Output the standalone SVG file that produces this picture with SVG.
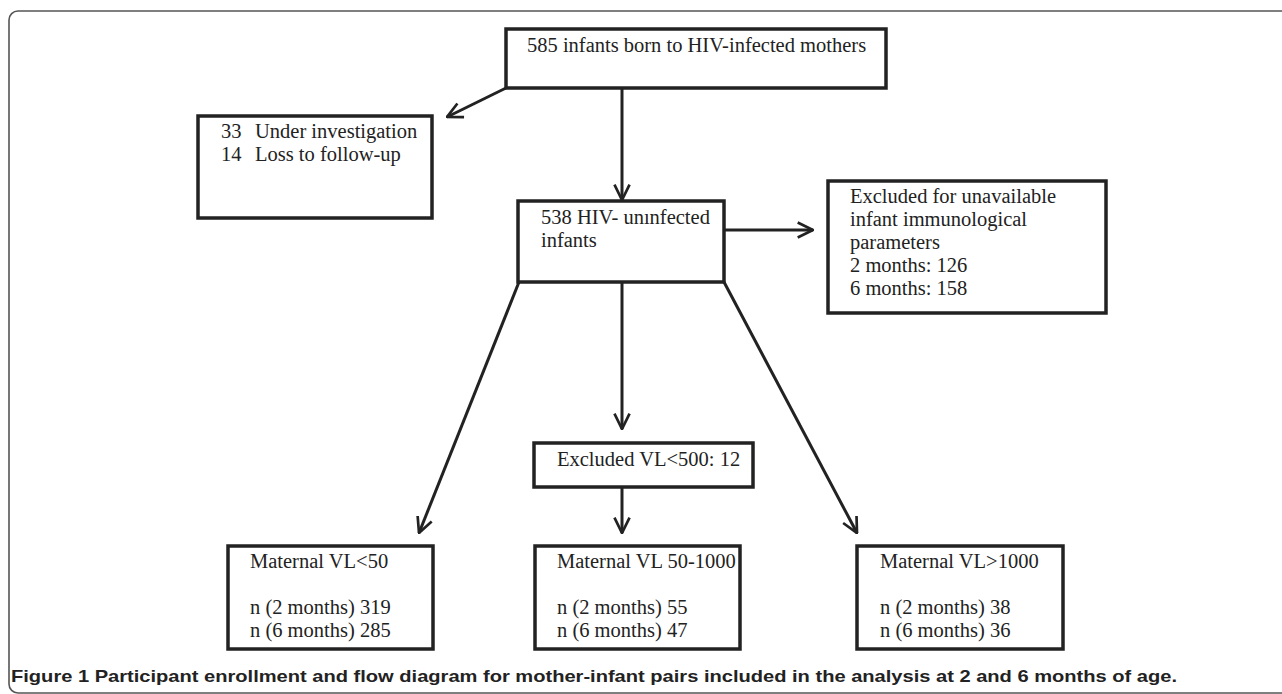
<svg xmlns="http://www.w3.org/2000/svg" width="1282" height="694" viewBox="0 0 1282 694">
<defs>
<style>
.box{fill:#fff;stroke:#222;stroke-width:3.5}
.t{font-family:"Liberation Serif","Times New Roman",serif;font-size:20.5px;fill:#222}
.con{stroke:#222;stroke-width:3;fill:none;marker-end:url(#arr)}
.cap{font-family:"Liberation Sans",Arial,sans-serif;font-size:17px;font-weight:bold;fill:#222}
</style>
<marker id="arr" viewBox="0 0 10 10" refX="9.5" refY="5" markerWidth="6" markerHeight="6" orient="auto" markerUnits="strokeWidth">
<path d="M1,0.8 L9.5,5 L1,9.2" fill="none" stroke="#222" stroke-width="1.5"/>
</marker>
</defs>
<rect x="9" y="11" width="1290" height="682" rx="9" fill="#fff" stroke="#555" stroke-width="1.6"/>
<g id="connectors">
<line class="con" x1="506" y1="88" x2="447" y2="117"/>
<line class="con" x1="622" y1="88" x2="622" y2="200"/>
<line class="con" x1="724" y1="230" x2="813" y2="230"/>
<line class="con" x1="519" y1="282" x2="419" y2="533"/>
<line class="con" x1="622" y1="282" x2="622" y2="429"/>
<line class="con" x1="724" y1="282" x2="857" y2="533"/>
<line class="con" x1="622" y1="487" x2="622" y2="533"/>
</g>
<g id="n-top">
<rect class="box" x="506" y="29" width="380" height="59"/>
<text class="t" x="527" y="52">585 infants born to HIV-infected mothers</text>
</g>
<g id="n-lost">
<rect class="box" x="198" y="116" width="234" height="102"/>
<text class="t" x="221" y="138">33</text>
<text class="t" x="255" y="138">Under investigation</text>
<text class="t" x="221" y="161">14</text>
<text class="t" x="255" y="161">Loss to follow-up</text>
</g>
<g id="n-uninfected">
<rect class="box" x="518" y="201" width="206" height="81"/>
<text class="t" x="541" y="224">538 HIV- unınfected</text>
<text class="t" x="541" y="247">infants</text>
</g>
<g id="n-excluded">
<rect class="box" x="828" y="181" width="278" height="132"/>
<text class="t" x="850" y="203">Excluded for unavailable</text>
<text class="t" x="850" y="226">infant immunological</text>
<text class="t" x="850" y="249">parameters</text>
<text class="t" x="850" y="272">2 months: 126</text>
<text class="t" x="850" y="295">6 months: 158</text>
</g>
<g id="n-vl500">
<rect class="box" x="534" y="443" width="219" height="44"/>
<text class="t" x="557" y="466">Excluded VL&lt;500: 12</text>
</g>
<g id="n-vl50">
<rect class="box" x="228" y="546" width="205" height="103"/>
<text class="t" x="250" y="568">Maternal VL&lt;50</text>
<text class="t" x="250" y="614">n (2 months) 319</text>
<text class="t" x="250" y="637">n (6 months) 285</text>
</g>
<g id="n-vl50-1000">
<rect class="box" x="535" y="546" width="205" height="103"/>
<text class="t" x="557" y="568">Maternal VL 50-1000</text>
<text class="t" x="557" y="614">n (2 months) 55</text>
<text class="t" x="557" y="637">n (6 months) 47</text>
</g>
<g id="n-vl1000">
<rect class="box" x="857" y="546" width="206" height="103"/>
<text class="t" x="880" y="568">Maternal VL&gt;1000</text>
<text class="t" x="880" y="614">n (2 months) 38</text>
<text class="t" x="880" y="637">n (6 months) 36</text>
</g>
<text class="cap" x="11" y="682" textLength="1166" lengthAdjust="spacingAndGlyphs">Figure 1 Participant enrollment and flow diagram for mother-infant pairs included in the analysis at 2 and 6 months of age.</text>
</svg>
